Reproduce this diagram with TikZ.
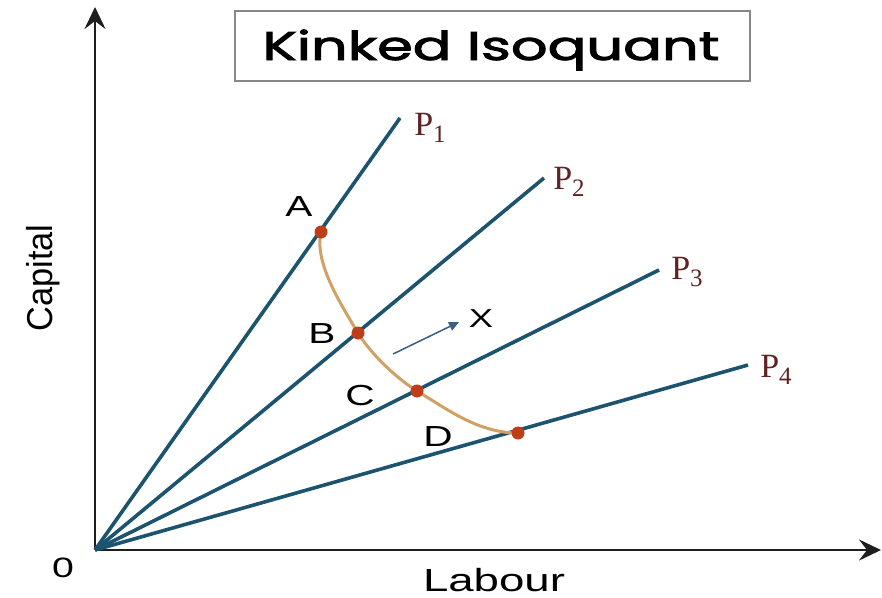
\documentclass[tikz,border=0pt]{standalone}
\usepackage{fontspec}
\setmainfont{Liberation Sans}
\newfontfamily\titlefont{Poppins}[FakeBold=2]
\newfontfamily\pfont{Liberation Serif}
\usetikzlibrary{arrows.meta}
\definecolor{raycol}{RGB}{28,84,112}
\definecolor{isocol}{RGB}{208,160,100}
\definecolor{dotcol}{RGB}{190,62,25}
\definecolor{plabcol}{RGB}{95,35,35}
\definecolor{arrcol}{RGB}{55,95,135}
\definecolor{boxcol}{RGB}{135,135,135}
\definecolor{axiscol}{RGB}{30,30,30}
\newcommand{\widetxt}[1]{\scalebox{1.4}[1]{#1}}
\newcommand{\plab}[1]{{\pfont\fontsize{34}{36}\selectfont P\raisebox{-7pt}{\fontsize{25}{26}\selectfont #1}}}
\begin{document}
\begin{tikzpicture}[x=1pt,y=-1pt,
  axis/.style={draw=axiscol,line width=2.7pt,-{Stealth[length=22pt,width=21pt,inset=8pt]}},
  ray/.style={draw=raycol,line width=3.6pt},
  isoline/.style={draw=isocol,line width=3pt},
  dotpt/.style={circle,fill=dotcol,inner sep=0pt,minimum size=13pt},
  ptlab/.style={inner sep=0pt,font=\fontsize{29}{32}\selectfont},
  plabel/.style={inner sep=0pt,text=plabcol},
  dirarrow/.style={draw=arrcol,line width=1.5pt,-{Triangle[length=10pt,width=9pt]}}
]
\useasboundingbox (0,0) rectangle (882,597);
% title
\node[draw=boxcol,line width=1.8pt,minimum width=515pt,minimum height=70pt,inner sep=0pt] (titlebox) at (492.5,46) {};
\node[anchor=base,inner sep=0pt] (title) at (491,60) {\resizebox{457pt}{\height}{\titlefont\fontsize{40}{48}\selectfont Kinked Isoquant}};
% axes
\coordinate (O) at (95,550);
\coordinate (xend) at (881,550);
\coordinate (yend) at (95,7);
\draw[axis] (O) -- (xend);
\draw[axis] (O) -- (yend);
\node[anchor=base,inner sep=0pt] (olab) at (63,577) {\widetxt{\fontsize{28}{32}\selectfont 0}};
\node[anchor=base,inner sep=0pt] (labour) at (494,591) {\resizebox{142pt}{\height}{\fontsize{32}{36}\selectfont Labour}};
\node[anchor=base,inner sep=0pt,rotate=90] (capital) at (52,278) {\resizebox{107pt}{\height}{\fontsize{36}{40}\selectfont Capital}};
% rays
\coordinate (e1) at (400,118);
\coordinate (e2) at (544,178);
\coordinate (e3) at (659,270);
\coordinate (e4) at (748,365);
\draw[ray] (O) -- (e1);
\draw[ray] (O) -- (e2);
\draw[ray] (O) -- (e3);
\draw[ray] (O) -- (e4);
\node[plabel] (p1) at (430,128) {\plab{1}};
\node[plabel] (p2) at (569,182) {\plab{2}};
\node[plabel] (p3) at (687,272) {\plab{3}};
\node[plabel] (p4) at (776,370) {\plab{4}};
% isoquant
\coordinate (A) at (321,232);
\coordinate (B) at (358,333);
\coordinate (C) at (417,391);
\coordinate (D) at (518,433);
\draw[isoline] (A) .. controls (314,262) and (340,303) .. (B)
  .. controls (371,354) and (396,378) .. (C)
  .. controls (447,409) and (478,433) .. (D);
\node[dotpt] (dA) at (A) {};
\node[dotpt] (dB) at (B) {};
\node[dotpt] (dC) at (C) {};
\node[dotpt] (dD) at (D) {};
\node[ptlab] (lA) at (299,207) {\widetxt{A}};
\node[ptlab] (lB) at (322,334) {\widetxt{B}};
\node[ptlab] (lC) at (360,396) {\widetxt{C}};
\node[ptlab] (lD) at (438,437) {\widetxt{D}};
% direction arrow
\coordinate (as) at (393,354);
\coordinate (ae) at (459,322);
\draw[dirarrow] (as) -- (ae);
\node[ptlab,font=\fontsize{26}{28}\selectfont] (lX) at (481,319) {\widetxt{X}};
\end{tikzpicture}
\end{document}
